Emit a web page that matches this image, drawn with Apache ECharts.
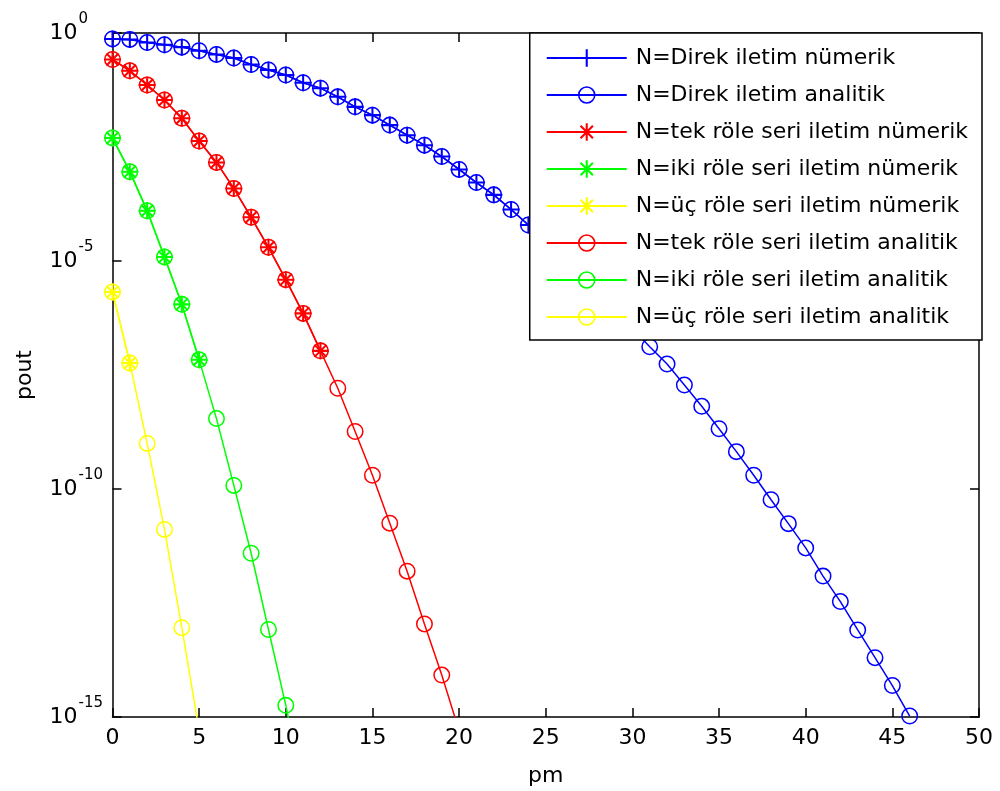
<!DOCTYPE html>
<html>
<head>
<meta charset="utf-8">
<script src="https://cdn.jsdelivr.net/npm/echarts@6/dist/echarts.min.js"></script>
<style>html,body{margin:0;background:#fff}#chart{width:1000px;height:791px}</style>
</head>
<body>
<div id="chart"></div>
<script>
// pm values (x axis)
var pm = [0, 1, 2, 3, 4, 5, 6, 7, 8, 9, 10, 11, 12, 13, 14, 15, 16, 17, 18, 19, 20, 21, 22, 23,
    24, 25, 26, 27, 28, 29, 30, 31, 32, 33, 34, 35, 36, 37, 38, 39, 40, 41, 42, 43, 44, 45, 46];

// Direk iletim
var blueAna = [0.741, 0.724, 0.617, 0.550, 0.490, 0.407, 0.339, 0.282, 0.204, 0.155, 0.120,
    0.0813, 0.0617, 0.0398, 0.0240, 0.0158, 0.00955, 0.00575, 0.00347, 0.00195, 0.00102,
    5.25e-4, 2.82e-4, 1.35e-4, 6.17e-5, 2.82e-5, 1.20e-5, 5.0e-6, 2.04e-6, 8.3e-7, 3.3e-7,
    1.32e-7, 5.5e-8, 1.9e-8, 6.5e-9, 2.1e-9, 6.6e-10, 2.0e-10, 5.8e-11, 1.74e-11, 5.1e-12,
    1.23e-12, 3.4e-13, 8.1e-14, 2.0e-14, 4.9e-15, 1.05e-15];
var blueNum = [0.741, 0.724, 0.617, 0.550, 0.490, 0.407, 0.339, 0.282, 0.204, 0.155, 0.120,
    0.0813, 0.0617, 0.0398, 0.0240, 0.0158, 0.00955, 0.00575, 0.00347, 0.00195, 0.00102,
    5.25e-4, 2.82e-4, 1.35e-4, 6.17e-5, 2.82e-5, 1.20e-5, 5.0e-6, 2.04e-6, 8.3e-7, 3.3e-7];

// tek röle
var redAna = [0.263, 0.148, 0.0724, 0.0339, 0.0135, 0.00427, 0.00145, 3.9e-4, 9.1e-5, 2.0e-5,
    3.9e-6, 7.1e-7, 1.07e-7, 1.62e-8, 1.82e-9, 2.0e-10, 1.78e-11, 1.58e-12, 1.1e-13, 8.3e-15, 5e-16];
var redNum = [0.263, 0.148, 0.0724, 0.0339, 0.0135, 0.00427, 0.00145, 3.9e-4, 9.1e-5, 2.0e-5,
    3.9e-6, 7.1e-7, 1.07e-7];

// iki röle
var greenAna = [5.0e-3, 9.1e-4, 1.26e-4, 1.23e-5, 1.12e-6, 6.8e-8, 3.5e-9, 1.2e-10, 3.9e-12,
    8.3e-14, 1.8e-15, 2.5e-17];
var greenNum = [5.0e-3, 9.1e-4, 1.26e-4, 1.23e-5, 1.12e-6, 6.8e-8];

// üç röle
var yellowAna = [2.1e-6, 5.8e-8, 1.0e-9, 1.3e-11, 9.1e-14, 5e-16];
var yellowNum = [2.1e-6, 5.8e-8];

var FONT = 'DejaVu Sans';
var symPlus = 'path://M-1.2,-10L1.2,-10L1.2,-1.2L10,-1.2L10,1.2L1.2,1.2L1.2,10L-1.2,10L-1.2,1.2L-10,1.2L-10,-1.2L-1.2,-1.2Z';
var symRing = 'path://M0,-10A10,10,0,1,1,0,10A10,10,0,1,1,0,-10ZM0,-8.2A8.2,8.2,0,1,0,0,8.2A8.2,8.2,0,1,0,0,-8.2Z';
var symStar = 'path://M-10,-1.2L10,-1.2L10,1.2L-10,1.2ZM-1.2,-10L1.2,-10L1.2,10L-1.2,10Z' +
    'M-6.2,-7.9L7.9,6.2L6.2,7.9L-7.9,-6.2ZM7.9,-6.2L-6.2,7.9L-7.9,6.2L6.2,-7.9Z';

function pts(arr) {
    return arr.map(function(v, i) { return [pm[i], v]; });
}

function line(name, color, symbol, arr) {
    return {
        name: name,
        type: 'line',
        data: pts(arr),
        symbol: symbol,
        symbolSize: 17,
        clip: true,
        itemStyle: { color: color, borderWidth: 0 },
        lineStyle: { color: color, width: 1.5 },
        emphasis: { disabled: true }
    };
}

var series = [
    line('N=Direk iletim nümerik', '#0000ff', symPlus, blueNum),
    line('N=Direk iletim analitik', '#0000ff', symRing, blueAna),
    line('N=tek röle seri iletim nümerik', '#ff0000', symStar, redNum),
    line('N=iki röle seri iletim nümerik', '#00ff00', symStar, greenNum),
    line('N=üç röle seri iletim nümerik', '#ffff00', symStar, yellowNum),
    line('N=tek röle seri iletim analitik', '#ff0000', symRing, redAna),
    line('N=iki röle seri iletim analitik', '#00ff00', symRing, greenAna),
    line('N=üç röle seri iletim analitik', '#ffff00', symRing, yellowAna)
];

var axisLine = { show: true, onZero: false, lineStyle: { color: '#000', width: 1.5 } };
var axisTick = { show: true, inside: true, length: 9, lineStyle: { color: '#000', width: 1.5 } };

var myChart = echarts.init(document.getElementById('chart'));
var option = {
    animation: false,
    backgroundColor: '#fff',
    grid: { left: 112.5, right: 21, top: 33, bottom: 74, containLabel: false, outerBoundsMode: 'none' },
    legend: {
        orient: 'vertical',
        right: 18,
        top: 33,
        backgroundColor: '#fff',
        borderColor: '#000',
        borderWidth: 1.5,
        borderRadius: 0,
        padding: [12, 14, 10, 16],
        itemWidth: 80,
        itemHeight: 22,
        itemGap: 11,
        textStyle: { fontFamily: FONT, fontSize: 22, color: '#000', lineHeight: 26, padding: [0, 0, 0, 4] },
        data: series.map(function(s) { return s.name; })
    },
    xAxis: [{
        type: 'value',
        min: 0,
        max: 50,
        interval: 5,
        position: 'bottom',
        axisLine: axisLine,
        axisTick: axisTick,
        splitLine: { show: false },
        axisLabel: { fontFamily: FONT, fontSize: 22, color: '#000', margin: 10 },
        name: 'pm',
        nameLocation: 'middle',
        nameGap: 48,
        nameTextStyle: { fontFamily: FONT, fontSize: 22, color: '#000' }
    }, {
        type: 'value',
        min: 0,
        max: 50,
        interval: 5,
        position: 'top',
        axisLine: axisLine,
        axisTick: axisTick,
        splitLine: { show: false },
        axisLabel: { show: false }
    }],
    yAxis: [{
        type: 'log',
        min: 1e-15,
        max: 1,
        interval: 5,
        position: 'left',
        axisLine: axisLine,
        axisTick: axisTick,
        splitLine: { show: false },
        minorTick: { show: false },
        axisLabel: {
            align: 'left',
            margin: 63,
            color: '#000',
            formatter: function(v) {
                var e = Math.round(Math.log10(v));
                return '{b|10}{s|' + e + '}';
            },
            rich: {
                b: { fontFamily: FONT, fontSize: 22, lineHeight: 22, color: '#000' },
                s: { fontFamily: FONT, fontSize: 15, lineHeight: 15, color: '#000', padding: [0, 0, 28, 1] }
            }
        },
        name: 'pout',
        nameLocation: 'middle',
        nameGap: 76,
        nameTextStyle: { fontFamily: FONT, fontSize: 22, color: '#000' }
    }, {
        type: 'log',
        min: 1e-15,
        max: 1,
        interval: 5,
        position: 'right',
        axisLine: axisLine,
        axisTick: axisTick,
        splitLine: { show: false },
        axisLabel: { show: false }
    }],
    series: series
};
myChart.setOption(option);
</script>
</body>
</html>
